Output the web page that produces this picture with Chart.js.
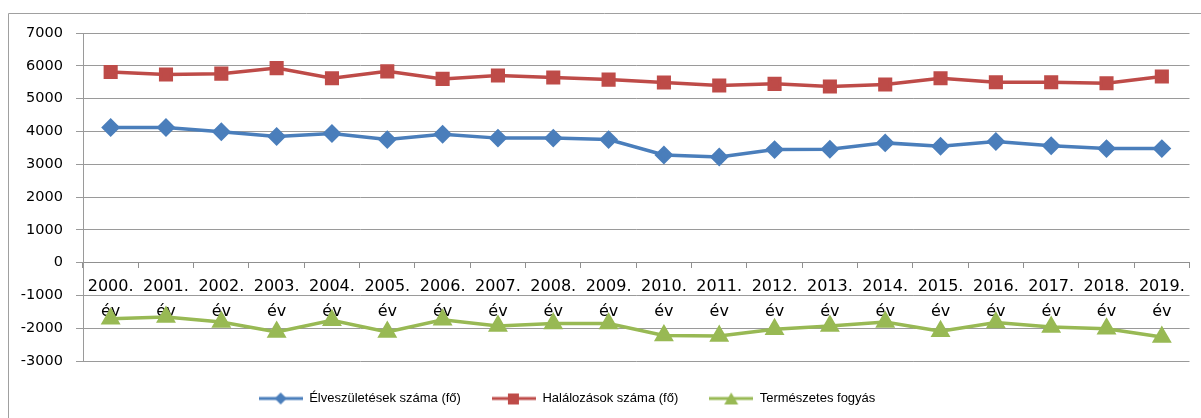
<!DOCTYPE html>
<html>
<head>
<meta charset="utf-8">
<script src="https://cdn.jsdelivr.net/npm/chart.js@4.4.1/dist/chart.umd.min.js"></script>
<style>
  html, body { margin: 0; padding: 0; background: #fff; }
  #wrap { width: 1201px; height: 418px; }
</style>
</head>
<body>
<div id="wrap"><canvas id="lineChart" width="1201" height="418"></canvas></div>
<script>
// data
var years = ["2000.", "2001.", "2002.", "2003.", "2004.", "2005.", "2006.", "2007.", "2008.", "2009.",
             "2010.", "2011.", "2012.", "2013.", "2014.", "2015.", "2016.", "2017.", "2018.", "2019."];
var births = [4120, 4120, 3990, 3845, 3935, 3750, 3915, 3795, 3795, 3750,
              3280, 3220, 3445, 3455, 3650, 3550, 3690, 3560, 3475, 3475];
var deaths = [5810, 5735, 5760, 5930, 5620, 5830, 5600, 5705, 5645, 5580,
              5490, 5400, 5450, 5370, 5430, 5620, 5500, 5500, 5470, 5675];
var naturalDecrease = [-1710, -1655, -1810, -2115, -1760, -2115, -1740, -1930, -1860, -1860,
                       -2220, -2240, -2035, -1930, -1810, -2095, -1830, -1965, -2015, -2270];
var yMin = -3000, yMax = 7000, yStep = 1000;

var blue = '#4a7ebb', red = '#be4b48', green = '#98b954';

// little line+marker pictures for the legend
function legendIcon(color, style) {
  var c = document.createElement('canvas');
  c.width = 44; c.height = 16;
  var g = c.getContext('2d');
  g.strokeStyle = color; g.lineWidth = 3;
  g.beginPath(); g.moveTo(0, 8); g.lineTo(44, 8); g.stroke();
  g.fillStyle = color;
  g.beginPath();
  if (style === 'rectRot') { g.moveTo(22, 2); g.lineTo(28, 8); g.lineTo(22, 14); g.lineTo(16, 8); }
  else if (style === 'rect') { g.rect(16, 3, 11, 11); }
  else { g.moveTo(22, 2); g.lineTo(29, 14); g.lineTo(15, 14); }
  g.closePath(); g.fill();
  return c;
}
var icons = [legendIcon(blue, 'rectRot'), legendIcon(red, 'rect'), legendIcon(green, 'triangle')];

// frame lines of the original chart object (top and left only)
var framePlugin = {
  id: 'frame',
  afterLayout: function(chart) {
    // the legend sits a bit left of the middle in the original
    if (chart.legend) { chart.legend.right -= 58; }
  },
  beforeDraw: function(chart) {
    var c = chart.ctx;
    c.save();
    c.strokeStyle = '#a0a0a0'; c.lineWidth = 1;
    c.beginPath();
    c.moveTo(8.5, 418); c.lineTo(8.5, 13.5); c.lineTo(1201, 13.5);
    c.stroke();
    c.restore();
  }
};

var ctxL = document.getElementById("lineChart").getContext('2d');
var myLineChart = new Chart(ctxL, {
  type: 'line',
  data: {
    labels: years.map(function(y) { return [y, "év"]; }),
    datasets: [
      {
        label: "Élveszületések száma (fő)",
        data: births,
        borderColor: blue, backgroundColor: blue,
        borderWidth: 3.5, pointStyle: 'rectRot', pointRadius: 7, pointHoverRadius: 7
      },
      {
        label: "Halálozások száma (fő)",
        data: deaths,
        borderColor: red, backgroundColor: red,
        borderWidth: 3.5, pointStyle: 'rect', pointRadius: 7.5, pointHoverRadius: 7.5
      },
      {
        label: "Természetes fogyás",
        data: naturalDecrease,
        borderColor: green, backgroundColor: green,
        borderWidth: 3.5, pointStyle: 'triangle', pointRadius: 8, pointHoverRadius: 8
      }
    ]
  },
  options: {
    responsive: false,
    animation: false,
    layout: { padding: { left: 0, right: 9, top: 33, bottom: 3 } },
    elements: { line: { tension: 0 }, point: { borderWidth: 0 } },
    plugins: {
      tooltip: { enabled: false },
      legend: {
        position: 'bottom',
        labels: {
          usePointStyle: true,
          pointStyleWidth: 44,
          padding: 31,
          color: '#000',
          font: { family: "'Liberation Sans', sans-serif", size: 13 },
          generateLabels: function(chart) {
            var items = Chart.defaults.plugins.legend.labels.generateLabels(chart);
            items.forEach(function(it, i) { it.pointStyle = icons[i]; });
            return items;
          }
        }
      }
    },
    scales: {
      x: {
        position: { y: 0 },
        offset: true,
        grid: { drawOnChartArea: false, offset: true, tickLength: 5, color: '#909090' },
        border: { color: '#909090', width: 1 },
        ticks: {
          maxRotation: 0, autoSkip: false, padding: 7, color: '#000',
          font: { family: "'DejaVu Sans', sans-serif", size: 16, lineHeight: 1.55 }
        }
      },
      y: {
        min: yMin, max: yMax,
        afterFit: function(scale) { scale.width = 83; },
        grid: { color: '#9a9a9a', tickLength: 7 },
        border: { color: '#9a9a9a', width: 1 },
        ticks: {
          stepSize: yStep, padding: 13, color: '#000',
          font: { family: "'DejaVu Sans', sans-serif", size: 14.5 },
          callback: function(v) { return String(v); }
        }
      }
    }
  },
  plugins: [framePlugin]
});
</script>
</body>
</html>
